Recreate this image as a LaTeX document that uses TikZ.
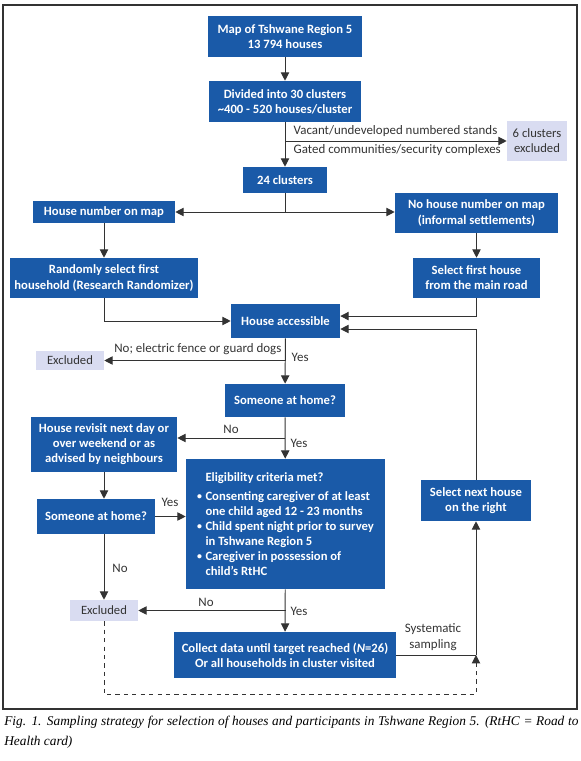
\documentclass[tikz,border=0pt]{standalone}
\usepackage{fontspec}
\setmainfont{Carlito}
\newfontfamily\capfont{Liberation Serif}
\usepackage[HTML]{xcolor}
\usetikzlibrary{positioning, arrows, arrows.meta}

\definecolor{boxblue}{HTML}{1A5AA8}
\definecolor{paleblue}{HTML}{D9DCF1}
\definecolor{linegray}{HTML}{333333}
\newcommand{\blt}{\makebox[6pt][l]{\raisebox{0.5pt}{\scriptsize\textbullet}}}

\begin{document}
\begin{tikzpicture}[x=0.025cm, y=-0.025cm,
  bluebox/.style={fill=boxblue, text=white, font=\fontsize{9}{10.7}\selectfont\bfseries, align=center, inner sep=2pt},
  palebox/.style={fill=paleblue, text=linegray, font=\fontsize{9}{10.7}\selectfont, align=center, inner sep=2pt},
  lbl/.style={text=linegray, font=\fontsize{9.2}{10.9}\selectfont, inner sep=1pt},
  wire/.style={draw=linegray, line width=0.7pt},
  link/.style={wire, -{Triangle[length=6pt,width=6pt]}}]
\useasboundingbox (0,0) rectangle (580,761);
\draw[draw=linegray, line width=1pt] (3,5) rectangle (577,709);

% boxes, top to bottom
\node[bluebox, minimum width=3.85cm, minimum height=1.025cm] (map) at (285,36.5) {Map of Tshwane Region 5\\13~794 houses};
\node[bluebox, minimum width=3.8cm, minimum height=1.025cm] (div) at (285,101.5) {Divided into 30 clusters\\\textasciitilde400 - 520 houses/cluster};
\node[palebox, minimum width=1.5cm, minimum height=1cm] (ex6) at (537,141) {6 clusters\\excluded};
\node[bluebox, minimum width=2.075cm, minimum height=0.65cm] (c24) at (285,180) {24 clusters};
\node[bluebox, minimum width=3.55cm, minimum height=0.55cm] (hnum) at (104,212) {House number on map};
\node[bluebox, minimum width=4.075cm, minimum height=1cm] (nohn) at (476.5,213) {No house number on map\\(informal settlements)};
\node[bluebox, minimum width=4.7cm, minimum height=1cm] (rand) at (104,278) {Randomly select first\\household (Research Randomizer)};
\node[bluebox, minimum width=3.175cm, minimum height=1cm] (first) at (476.5,278) {Select first house\\from the main road};
\node[bluebox, minimum width=2.725cm, minimum height=0.85cm] (acc) at (285.5,321) {House accessible};
\node[palebox, minimum width=1.7cm, minimum height=0.475cm] (ex1) at (70,360.5) {Excluded};
\node[bluebox, minimum width=3cm, minimum height=0.825cm] (home) at (285,400.5) {Someone at home?};
\node[bluebox, minimum width=3.65cm, minimum height=1.375cm] (revisit) at (104,444.5) {House revisit next day or\\over weekend or as\\advised by neighbours};
\node[bluebox, minimum width=2.95cm, minimum height=0.875cm] (home2) at (96,516.5) {Someone at home?};
\node[bluebox, minimum width=4.975cm, minimum height=3.25cm, align=left] (elig) at (285.5,524) {\hspace*{6pt}Eligibility criteria met?\\[3pt]
  \blt Consenting caregiver of at least\\
  \hspace*{6pt}one child aged 12 - 23 months\\
  \blt Child spent night prior to survey\\
  \hspace*{6pt}in Tshwane Region 5\\
  \blt Caregiver in possession of\\
  \hspace*{6pt}child's RtHC};
\node[bluebox, minimum width=2.75cm, minimum height=1.025cm] (next) at (476,500.5) {Select next house\\on the right};
\node[palebox, minimum width=1.7cm, minimum height=0.525cm] (ex2) at (104,610.5) {Excluded};
\node[bluebox, minimum width=5.55cm, minimum height=1.15cm] (coll) at (285,655) {Collect data until target reached (\textit{N}=26)\\Or all households in cluster visited};

% clusters
\coordinate (cut) at (div.south |- ex6.west);
\coordinate (fork) at (c24.south |- hnum.east);
\draw[link] (map) -- (div);
\draw[link] (div) -- (c24);
\draw[link] (cut) -- (ex6);
\node[lbl, anchor=west] (vaclbl) at (292,131) {Vacant/undeveloped numbered stands};
\node[lbl, anchor=west] (gatelbl) at (292,150) {Gated communities/security complexes};
\draw[wire] (c24) -- (fork);
\draw[link] (fork) -- (hnum);
\draw[link] (fork) -- (fork -| nohn.west);

% first house
\draw[link] (hnum) -- (hnum |- rand.north);
\draw[link] (nohn) -- (nohn |- first.north);
\draw[link] (rand.south) |- (acc.west);
\draw[link] (first.south) |- ([yshift=3.5pt]acc.east);
\draw[link] (next.north) |- ([yshift=-5.7pt]acc.east);

% visit
\coordinate (accno) at (acc.south |- ex1.east);
\coordinate (homeno) at (285,438);
\draw[link] (acc) -- (home);
\draw[link] (accno) -- (ex1);
\node[lbl, anchor=east] (fencelbl) at (283,349) {No; electric fence or guard dogs};
\node[lbl, anchor=west] (yes1) at (290,357) {Yes};
\draw[link] (home) -- (elig);
\draw[link] (homeno) -- (homeno -| revisit.east);
\node[lbl] (no2) at (231,429) {No};
\node[lbl] (yes2) at (299,443) {Yes};
\draw[link] (revisit.south) -- (revisit.south |- home2.north);
\draw[link] (home2.east) -- (home2.east -| elig.west);
\node[lbl] (yes3) at (170,502) {Yes};
\draw[link] (ex2 |- home2.south) -- (ex2);
\node[lbl] (no3) at (120,568) {No};

% eligibility and sampling
\coordinate (eligno) at (elig.south |- ex2.east);
\coordinate (sys) at (next.south |- coll.east);
\draw[link] (elig) -- (coll);
\draw[link] (eligno) -- (ex2);
\node[lbl] (no4) at (206,602) {No};
\node[lbl] (yes4) at (299,611) {Yes};
\draw[wire] (coll.east) -- (sys);
\draw[link] (sys) -- (next);
\node[lbl, align=center] (syslbl) at (433,637) {Systematic\\sampling};
\draw[link, dashed] (ex2.south) -- ++(0,73) -| (sys);

\node[anchor=north west, text width=14.35cm, align=justify, inner sep=0pt,
  font=\capfont\itshape\fontsize{9.5}{13.9}\selectfont] (cap) at (4,716) {Fig. 1. Sampling strategy for selection of houses and participants in Tshwane Region 5. (RtHC = Road to\linebreak Health card)};
\end{tikzpicture}
\end{document}
